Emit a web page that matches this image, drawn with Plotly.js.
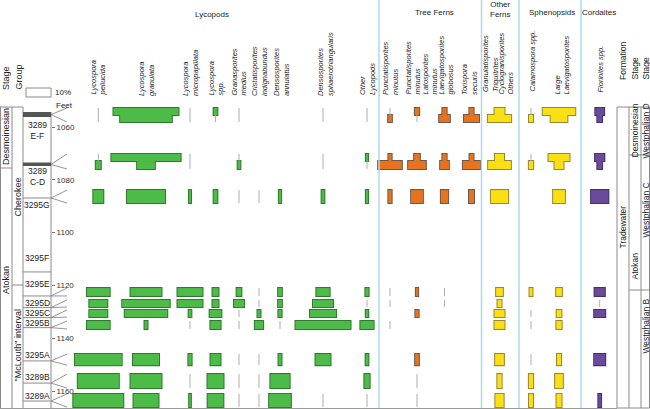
<!DOCTYPE html>
<html><head><meta charset="utf-8">
<script src="https://cdn.plot.ly/plotly-3.0.1.min.js"></script>
<style>body{margin:0;background:#fff}#chart{width:650px;height:409px}</style>
</head><body><div id="chart"></div>
<script>
// ---------- DATA ----------
// plotted sample rows (two sub-rows for the composite 3289 samples)
const rowNames = ["3289 E-F (upper)","3289 E-F (lower)","3289 C-D (upper)","3289 C-D (lower)","3295G","3295E","3295D","3295C","3295B","3295A","3289B","3289A"];
const rowTopFt    = [1052.8, 1055.45, 1070.2, 1072.9, 1083.9, 1121.0, 1125.5, 1129.3, 1133.5, 1146.0, 1153.6, 1161.1];
const rowBottomFt = [1055.45, 1058.1, 1072.9, 1075.9, 1088.8, 1124.0, 1128.2, 1132.0, 1136.5, 1150.2, 1158.9, 1166.1];

// samples in the core column
const sampleLabels = ["3289<br>E-F","3289<br>C-D","3295G","3295F","3295E","3295D","3295C","3295B","3295A","3289B","3289A"];
const sampleDepthFt = [1055.3, 1074.2, 1086.9, 1114.9, 1124.0, 1128.4, 1132.2, 1136.0, 1148.6, 1157.0, 1163.8];
const sampleFirstRow = [0, 2, 4, null, 5, 6, 7, 8, 9, 10, 11];
const sampleLastRow  = [1, 3, 4, null, 5, 6, 7, 8, 9, 10, 11];

// percentages (null = absent, 0 = present in trace amounts)
const lycosporaPellucida   = [0, 0, 0, 2.0, 4.0, 9.1, 7.2, 7.2, 9.1, 18.7, 16.4, 20.0];
const lycosporaGranulata   = [26.0, 20.7, 27.7, 7.1, 15.2, 12.4, 19.0, 17.0, 1.2, 10.4, 12.4, 10.0];
const lycosporaMicropap    = [0, 0, 0, 0, 0.8, 10.0, 10.0, 1.1, 0, 1.3, 0, 0.7];
const lycosporaSpp         = [1.5, 0, null, null, 1.5, 2.4, 2.4, 4.7, 4.1, 4.0, 6.4, 6.3];
const granasporitesMedius  = [0, 0, 0, 1.1, 0, 1.9, 4.0, 0, 0, 0, 0, 0];
const cristatisporites     = [null, null, null, null, 0, 0, 0, 1.2, 3.3, 0, 0, 0];
const densosporitesAnnul   = [null, null, null, null, 0.9, 1.5, 1.5, 1.3, 0, 1.2, 7.7, 8.7];
const densosporitesSphaero = [0, 0, 0, 0, 1.1, 5.3, 8.0, 10.4, 22.0, 6.0, null, 0];
const otherLycopods        = [0, 0, 0.9, 0, 0.9, 1.3, 0, 1.0, 5.3, 1.1, 2.1, 0];
const punctatisporites1    = [0, 1.5, 1.3, 9.5, 1.3, 0, 0, null, 0, null, null, null];
const punctatisporites2    = [1.7, 0, 2.3, 7.1, 4.7, 0.9, null, 1.3, null, 1.5, 0, 0];
const laevigatosporitesGlob= [1.7, 4.3, 1.7, 3.5, 2.9, 0, 0, null, null, null, null, null];
const torisporaSecuris     = [1.7, 6.0, 1.6, 6.9, 2.0, null, null, null, null, null, null, null];
const otherFerns           = [4.0, 9.3, 3.6, 9.1, 6.9, 2.7, 1.6, 4.0, 4.0, 3.5, 1.7, 3.3];
const calamosporaSpp       = [0, 1.6, 0, 1.7, null, 1.2, null, 0, 0, 0, 1.7, 1.6];
const largeLaevigatospor   = [13.0, 6.7, 8.4, 3.6, 4.7, 2.3, null, 1.9, 2.1, 1.6, 3.1, 2.0];
const florinitesSpp        = [3.5, 1.9, 3.7, 1.9, 6.9, 4.1, 0, 4.4, null, 4.4, null, 1.1];

const seriesValues = [lycosporaPellucida, lycosporaGranulata, lycosporaMicropap, lycosporaSpp,
  granasporitesMedius, cristatisporites, densosporitesAnnul, densosporitesSphaero, otherLycopods,
  punctatisporites1, punctatisporites2, laevigatosporitesGlob, torisporaSecuris, otherFerns,
  calamosporaSpp, largeLaevigatospor, florinitesSpp];

const depthTicks = [1060, 1080, 1100, 1120, 1140, 1160];

// ---------- LAYOUT (positions / styles) ----------
const W = 650, H = 409;
const PXPCT = 2.5;                       // px per percent
const ft = py => 1060 + (py - 127) / 2.64; // px -> feet
const colCenterPx = [98.3, 146, 190, 215.5, 239, 259, 280, 323, 367, 390, 417, 444.5, 471.5, 499.5, 531, 559, 599.7];
const colGroup = [0,0,0,0,0,0,0,0,0,1,1,1,1,2,3,3,4];
const groupStyle = [
  {fill:'#4dbb48', line:'#2f7a2d'},
  {fill:'#e8731f', line:'#6a5a4c'},
  {fill:'#fadf14', line:'#978632'},
  {fill:'#fadf14', line:'#978632'},
  {fill:'#6a4b9b', line:'#45306c'}
];

const traces = [];

// trace (presence) ticks
{
  const x = [], y = [];
  seriesValues.forEach((vals, c) => {
    const cx = colCenterPx[c] / PXPCT;
    vals.forEach((v, r) => {
      if (v === 0) { x.push(cx, cx, null); y.push(rowTopFt[r], rowBottomFt[r], null); }
    });
  });
  traces.push({type:'scatter', mode:'lines', x, y, line:{color:'#adadad', width:1}, hoverinfo:'skip', showlegend:false});
}

// bars: outline layer then fill layer
for (let layer = 0; layer < 2; layer++) {
  groupStyle.forEach((st, g) => {
    const x = [], y = [], base = [], width = [];
    seriesValues.forEach((vals, c) => {
      if (colGroup[c] !== g) return;
      const cx = colCenterPx[c] / PXPCT;
      vals.forEach((v, r) => {
        if (v !== null && v > 0) {
          x.push(v); base.push(cx - v / 2);
          y.push((rowTopFt[r] + rowBottomFt[r]) / 2);
          width.push(rowBottomFt[r] - rowTopFt[r]);
        }
      });
    });
    traces.push({type:'bar', orientation:'h', x, y, base, width,
      marker:{color:st.fill, line:{color:st.line, width: layer === 0 ? 2 : 0}},
      hoverinfo:'skip', showlegend:false});
  });
}

// fan lines from core column to the plotted rows
{
  const x = [], y = [];
  const x0 = 51 / PXPCT, x1 = 67 / PXPCT;
  sampleDepthFt.forEach((d, s) => {
    if (sampleFirstRow[s] === null) return;
    x.push(x0, x1, null, x0, x1, null);
    y.push(d, rowTopFt[sampleFirstRow[s]], null, d, rowBottomFt[sampleLastRow[s]], null);
  });
  traces.push({type:'scatter', mode:'lines', x, y, line:{color:'#7a7a7a', width:0.8}, hoverinfo:'skip', showlegend:false});
}

// ---------- shapes ----------
const P = px => px / W, Q = py => 1 - py / H;
const shapes = [];
const lineP = (x0, y0, x1, y1, color, w) => shapes.push({type:'line', xref:'paper', yref:'paper',
  x0:P(x0), y0:Q(y0), x1:P(x1), y1:Q(y1), line:{color:color||'#8a8a8a', width:w||1}});
// blue group separators
[379, 481.5, 519, 581].forEach(px => lineP(px, 0, px, 408, '#a9dcf0', 1.5));
// bottom rule
lineP(0, 408.5, 617, 408.5, '#9a9a9a', 1);
// legend box
shapes.push({type:'rect', xref:'paper', yref:'paper', x0:P(26), x1:P(51), y0:Q(88), y1:Q(97), line:{color:'#8a8a8a', width:1}, fillcolor:'#fff'});
// left table
lineP(0, 107, 23, 107); lineP(0.5, 107, 0.5, 408); lineP(12, 107, 12, 408); lineP(23, 107, 23, 408);
lineP(0, 168, 12, 168); lineP(12, 285, 23, 285);
lineP(51, 112, 51, 408);
shapes.push({type:'rect', xref:'paper', yref:'paper', x0:P(23), x1:P(51), y0:Q(112), y1:Q(117), line:{width:0}, fillcolor:'#555'});
shapes.push({type:'rect', xref:'paper', yref:'paper', x0:P(23), x1:P(51), y0:Q(162.5), y1:Q(166), line:{width:0}, fillcolor:'#555'});
sampleDepthFt.forEach((d, s) => {
  if (s < 2) return;
  shapes.push({type:'line', xref:'paper', yref:'y', x0:P(23), x1:P(51), y0:d, y1:d, line:{color:'#8a8a8a', width:1}});
});
// right table
shapes.push({type:'rect', xref:'paper', yref:'paper', x0:P(617), x1:P(649.5), y0:Q(107), y1:Q(408), line:{color:'#8a8a8a', width:1}});
lineP(629, 107, 629, 408); lineP(641, 107, 641, 408);
lineP(629, 155, 650, 155); lineP(629, 290, 650, 290);

// ---------- annotations ----------
const ann = [];
const txt = (text, px, py, o) => ann.push(Object.assign({text, xref:'paper', yref:'paper', x:P(px), y:Q(py),
  showarrow:false, xanchor:'center', yanchor:'middle', font:{size:8, color:'#222'}}, o||{}));
const rot = (text, px, pyBottom, size, italic) => txt(italic ? text.split('<br>').map(s => '<i>'+s+'</i>').join('<br>') : text,
  px, pyBottom, {textangle:-90, yanchor:'bottom', align:'left', font:{size:size, color:'#222'}});
const midRot = (t, px, py, size) => { rot(t, px, 0, size || 8.5); ann[ann.length-1].yanchor = 'middle'; ann[ann.length-1].y = Q(py); };

// group headers
txt('Lycopods', 212, 14);
txt('Tree Ferns', 434, 13);
txt('Other<br>Ferns', 500, 9);
txt('Sphenopsids', 552, 13);
txt('Cordaites', 599, 13);

// taxon labels
const taxonLabels = [
  ['Lycospora<br>pellucida', 98, 98], ['Lycospora<br>granulata', 146, 98], ['Lycospora<br>micropapillata', 190, 98],
  ['Lycospora<br>spp.', 215.5, 98], ['Granasporites<br>medius', 239, 98], ['Cristatisporites<br>indignabundus', 259, 98],
  ['Densosporites<br>annulatus', 281, 98], ['Densosporites<br>sphaerotriangularis', 325, 98], ['Other<br>Lycopods', 367, 97],
  ['Punctatisporites<br>minutus', 390, 97], ['Punctatisporites<br>minutus', 412.5, 97], ['Latosporites<br>minutus', 430, 97],
  ['Laevigatosporites<br>globosus', 446, 97], ['Torispora<br>securis', 469.5, 97], ['Granulatisporites<br>Triquitrites', 490.5, 94],
  ['Cyclogranisporites<br>Others', 505.5, 97], ['Calamospora spp.', 532, 94], ['Large<br>Laevigatosporites', 562, 97],
  ['Florinites spp.', 600, 95]
];
taxonLabels.forEach(t => rot(t[0], t[1], t[2], 7.5, true));

// left headers
rot('Stage', 6, 92, 9); rot('Group', 18, 92, 9);
txt('10%', 53, 92.5, {xanchor:'left'});
txt('Feet', 54, 106, {xanchor:'left'});
midRot('Desmoinesian', 6, 137, 9);
midRot('Atokan', 6, 280, 9);
midRot('Cherokee', 17.5, 197, 9);
midRot('"McLouth" interval', 17.5, 346, 9);

// sample labels
const sampleLabelPy = [130, 176, 205, 258, 284, 303, 313, 323, 355, 377, 396];
sampleLabels.forEach((s, i) => txt(s, 37, sampleLabelPy[i], {font:{size:8.5, color:'#222'}}));

// right headers
rot('Formation', 622.5, 82, 8.5); rot('Stage', 634.5, 82, 8.5); rot('Stage', 645.5, 82, 8.5);
midRot('Tradewater', 622.5, 227);
midRot('Desmoinesian', 634.5, 131);
midRot('Westphalian D', 645.5, 131);
midRot('Atokan', 634.5, 266);
midRot('Westphalian C', 645.5, 210);
midRot('Westphalian B', 645.5, 326);

const layout = {
  width: W, height: H, margin:{l:0, r:0, t:0, b:0},
  paper_bgcolor:'#fff', plot_bgcolor:'rgba(0,0,0,0)',
  font:{family:'Liberation Sans, Arial, sans-serif', color:'#222'},
  barmode:'overlay', showlegend:false,
  xaxis:{range:[0, W / PXPCT], visible:false, fixedrange:true},
  yaxis:{range:[ft(H), ft(0)], anchor:'free', position:51 / W, side:'right', ticks:'outside', ticklen:3,
    tickcolor:'#777', tickvals:depthTicks, ticktext:depthTicks.map(String), showgrid:false, zeroline:false,
    showline:false, tickfont:{size:8, color:'#333'}, fixedrange:true},
  shapes, annotations: ann
};
Plotly.newPlot('chart', traces, layout, {displayModeBar:false, staticPlot:true});
</script>
</body></html>
